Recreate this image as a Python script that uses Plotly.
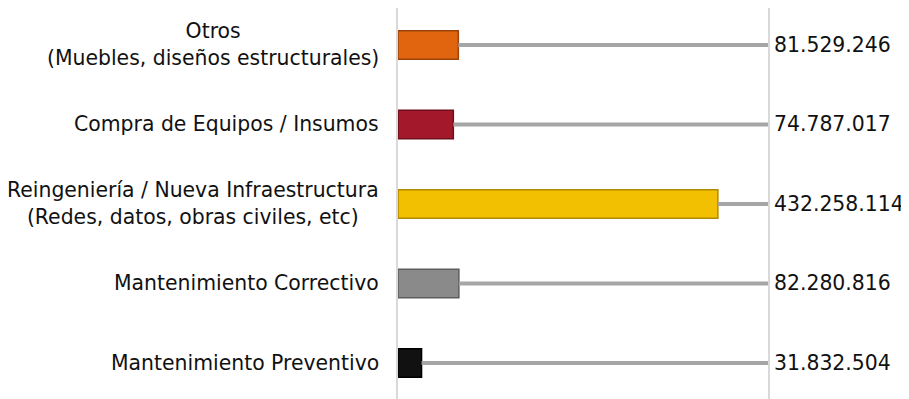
import plotly.graph_objects as go

categories = [
    "Mantenimiento Preventivo",
    "Mantenimiento Correctivo",
    "Reingeniería / Nueva Infraestructura<br>(Redes, datos, obras civiles, etc)",
    "Compra de Equipos / Insumos",
    "Otros<br>(Muebles, diseños estructurales)",
]
values = [31832504, 82280816, 432258114, 74787017, 81529246]
colors = ["#111111", "#8a8a8a", "#f2c000", "#a3182b", "#e0650e"]
edge_colors = ["#000000", "#5e5e5e", "#b08a00", "#6e0f1c", "#9c430a"]
axis_max = 500000000

labels = [f"{v:,}".replace(",", ".") for v in values]
ypos = list(range(len(categories)))
FONT = "DejaVu Sans"
FSIZE = 20.4

fig = go.Figure()

# connector lines from bar end to axis max
for y, v in zip(ypos, values):
    fig.add_trace(go.Scatter(
        x=[v, axis_max], y=[y, y], mode="lines",
        line=dict(color="#a6a6a6", width=4), hoverinfo="skip", showlegend=False,
    ))

fig.add_trace(go.Bar(
    x=values, y=ypos, orientation="h",
    marker=dict(color=colors, line=dict(color=edge_colors, width=1.5)),
    width=0.36, showlegend=False,
))

for y, t in zip(ypos, labels):
    fig.add_annotation(
        x=axis_max, xref="x", y=y, yref="y", text=t, showarrow=False,
        xanchor="left", xshift=4,
        font=dict(family=FONT, size=FSIZE, color="#111111"),
    )

for y, c in zip(ypos, categories):
    fig.add_annotation(
        x=0, xref="paper", y=y, yref="y", text=c, showarrow=False,
        xanchor="right", align="center", xshift=-17,
        font=dict(family=FONT, size=FSIZE, color="#111111"),
    )

fig.update_layout(
    width=900, height=391,
    margin=dict(l=390, r=140, t=0, b=0),
    paper_bgcolor="white", plot_bgcolor="white",
    xaxis=dict(range=[0, axis_max], showgrid=False, zeroline=False,
               showticklabels=False, showline=False),
    yaxis=dict(range=[-0.453, 4.465], showgrid=False, zeroline=False,
               showticklabels=False, showline=True, mirror=True,
               linecolor="#d9d9d9", linewidth=2),
)

fig.write_html("out.html")
